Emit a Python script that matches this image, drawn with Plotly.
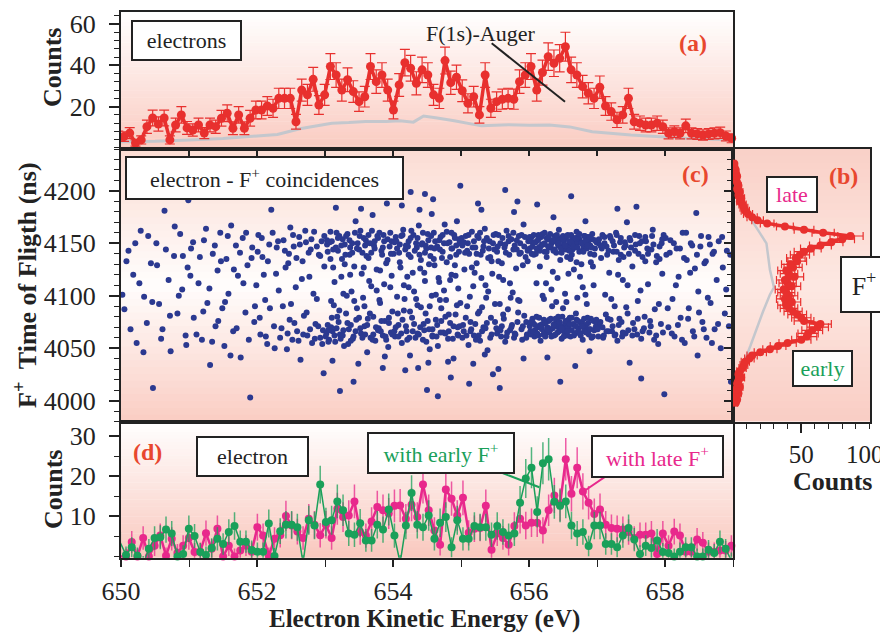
import numpy as np
import plotly.graph_objects as go

W, H = 888, 633
BODY_MARGIN = 8  # the page body keeps an 8 px margin; the figure is sized to fit inside it

# ---------------- Panel (a): electron spectrum ----------------
ENERGY_A_FIRST, ENERGY_A_LAST = 649.96, 658.98
COUNTS_A = [5.8, 5.5, 7.2, 2.4, 3.9, 10.3, 14.5, 11.6, 14.5, 3.9,
            11.1, 16, 9.7, 8.7, 11.1, 7.2, 11.1, 10.3, 14.4, 16.8,
            9.5, 16, 9.5, 14.4, 18.4, 18.4, 20.3, 19.2, 24, 24,
            24, 12.7, 28, 25.7, 33.2, 20.8, 25.7, 39.4, 35.3, 28,
            33, 27.3, 22.4, 24.8, 39.4, 32.1, 35.3, 28, 18.4, 30.5,
            41.3, 38.6, 31.3,
            37.8, 35.3, 25.7, 24, 42.3, 31.6, 34.2, 27.7, 21.6, 24.8,
            16, 35.3, 19.2, 22.4, 23.6, 24, 23.6, 32.1, 35.3, 39.4,
            28, 36.5, 44.2, 41, 43.4, 49, 37.8, 35.3, 29.7, 26.5,
            24, 29.4, 20.3, 17.6, 13.6, 16, 24, 12.7, 12, 11.1,
            11.1, 12, 10.3, 7.1, 7.9, 7.1, 10.7, 7.1, 6.8, 6.3,
            6.8, 7.1, 7.4, 5.8, 4.7]
GRAY_A_E = [650.0, 650.5, 651.0, 651.5, 652.0, 652.3, 652.63, 652.9, 653.1, 653.35,
            653.6, 653.9, 654.1, 654.3, 654.45, 654.65, 654.9, 655.3, 655.7, 656.0,
            656.3, 656.6, 656.93, 657.5, 658.3, 659.0]
GRAY_A = [3.0, 3.2, 3.8, 4.6, 5.8, 6.5, 9.3, 10.8, 12.0, 12.3,
          12.8, 12.8, 13.2, 12.5, 15.5, 14.5, 13.2, 10.7, 11.2, 11.0,
          11.1, 10.2, 7.9, 6.3, 4.7, 3.9]

# ---------------- Panel (b): F+ time-of-flight ----------------
TOF_B = [3998, 4001, 4004, 4007, 4010, 4013, 4016, 4019, 4022, 4025, 4028, 4031, 4034, 4037,
         4040, 4043, 4046, 4049, 4052, 4055, 4058, 4061, 4064, 4067, 4070, 4073, 4076, 4079,
         4082, 4085, 4088, 4091, 4094, 4097, 4100, 4103, 4106, 4109, 4112, 4115, 4118, 4121,
         4124, 4127, 4130, 4133, 4136, 4139, 4142, 4145, 4148, 4151, 4154, 4157, 4160, 4163,
         4166, 4169, 4172, 4175, 4178, 4181, 4184, 4187, 4190, 4193, 4196, 4199, 4202, 4205,
         4208, 4211, 4214, 4217, 4220, 4223, 4226]
COUNTS_B = [2, 3, 1, 4, 2, 5, 3, 4, 6, 4, 5, 7, 8, 9,
            12, 14, 20, 27, 33, 40, 50, 54, 55, 58, 62, 64, 52, 50,
            47, 44, 41, 39, 43, 38, 41, 39, 37, 43, 40, 38, 45, 41,
            39, 44, 42, 47, 46, 49, 52, 57, 64, 72, 80, 86, 66, 52,
            38, 25, 18, 14, 11, 9, 8, 7, 5, 6, 4, 5, 3, 4,
            3, 2, 3, 2, 2, 1, 1]
GRAY_B_TOF = [3996, 4000, 4020, 4036, 4052, 4068, 4085, 4101, 4108, 4125, 4150, 4170, 4180, 4200, 4215, 4226]
GRAY_B = [1.2, 5, 5.6, 7.8, 12.7, 17, 22, 27, 30, 27, 24.5, 14.7, 9, 4.5, 2.5, 0.5]
COUNTS_B_TICKS = [50, 100]

# ---------------- Panel (c): electron - F+ coincidences (energy eV, TOF ns) ----------------
COINC = [
 (650.02,4101),(650.05,4087),(650.11,4143),(650.18,4120),(650.23,4055),(650.29,4162),(650.34,4099),(650.38,4074),(650.44,4131),(650.47,4012),
 (650.52,4150),(650.56,4092),(650.61,4068),(650.64,4181),(650.70,4115),(650.73,4047),(650.78,4138),(650.83,4083),(650.87,4159),(650.90,4106),(650.95,4062),(650.98,4127),
 (651.03,4145),(651.07,4079),(651.10,4196),(651.14,4112),(651.19,4058),(651.22,4153),(651.27,4093),(651.31,4034),(651.35,4140),(651.39,4071),(651.42,4124),(651.46,4160),(651.49,4088),
 (651.52,4052),(651.55,4135),(651.58,4102),(651.62,4167),(651.65,4066),(651.69,4148),(651.72,4119),(651.76,4041),(651.79,4155),(651.83,4084),(651.86,4129),(651.90,4003),(651.93,4146),(651.96,4075),(651.99,4110),
 (652.02,4158),(652.05,4063),(652.08,4137),(652.12,4096),(652.15,4054),(652.18,4149),(652.21,4182),(652.25,4071),(652.28,4121),(652.31,4152),(652.34,4060),(652.38,4090),(652.41,4143),(652.44,4049),(652.46,4131),(652.48,4077),(652.49,4165),
 (652.52,4058),(652.54,4147),(652.57,4108),(652.59,4066),(652.62,4156),(652.64,4039),(652.67,4133),(652.69,4081),(652.72,4151),(652.74,4062),(652.77,4118),(652.79,4144),(652.81,4055),(652.84,4161),(652.86,4073),(652.88,4097),(652.91,4139),(652.93,4060),(652.95,4152),(652.97,4067),(652.98,4026),(652.99,4128),
 (653.01,4061),(653.03,4149),(653.04,4072),(653.06,4058),(653.08,4135),(653.10,4152),(653.11,4066),(653.13,4091),(653.15,4056),(653.17,4160),(653.19,4143),(653.20,4075),(653.22,4063),(653.24,4118),(653.26,4154),(653.28,4052),(653.30,4139),(653.31,4083),(653.33,4159),(653.35,4068),(653.37,4146),(653.39,4104),(653.41,4059),(653.43,4128),(653.45,4171),(653.46,4077),(653.48,4150),(653.49,4035),
 (653.51,4157),(653.53,4064),(653.55,4141),(653.56,4098),(653.58,4071),(653.60,4153),(653.62,4046),(653.64,4136),(653.65,4114),(653.67,4060),(653.69,4162),(653.71,4080),(653.72,4148),(653.74,4057),(653.76,4125),(653.78,4155),(653.79,4069),(653.81,4093),(653.83,4143),(653.85,4062),(653.86,4158),(653.88,4076),(653.90,4131),(653.91,4188),(653.93,4051),(653.95,4147),(653.96,4108),(653.97,4065),(653.98,4152),(653.99,4085),
 (654.01,4140),(654.03,4061),(654.04,4156),(654.06,4099),(654.08,4072),(654.10,4149),(654.11,4127),(654.13,4055),(654.15,4163),(654.16,4086),(654.18,4144),(654.20,4066),(654.21,4118),(654.23,4152),(654.25,4043),(654.26,4137),(654.28,4079),(654.30,4158),(654.31,4104),(654.33,4060),(654.35,4146),(654.36,4091),(654.38,4167),(654.40,4070),(654.41,4134),(654.43,4150),(654.44,4058),(654.46,4122),(654.47,4197),(654.48,4083),(654.49,4145),(654.50,4010),
 (654.52,4153),(654.53,4068),(654.55,4138),(654.57,4100),(654.58,4061),(654.60,4160),(654.61,4129),(654.63,4077),(654.65,4147),(654.66,4052),(654.68,4113),(654.70,4156),(654.71,4088),(654.73,4142),(654.74,4065),(654.76,4168),(654.78,4096),(654.79,4132),(654.81,4059),(654.83,4151),(654.84,4074),(654.86,4120),(654.87,4145),(654.89,4040),(654.90,4158),(654.92,4082),(654.93,4139),(654.95,4063),(654.96,4107),(654.97,4154),(654.98,4071),(654.99,4205),
 (655.02,4148),(655.04,4066),(655.05,4125),(655.07,4157),(655.09,4090),(655.11,4053),(655.12,4140),(655.14,4075),(655.16,4161),(655.18,4109),(655.19,4062),(655.21,4146),(655.23,4131),(655.25,4083),(655.26,4155),(655.28,4057),(655.30,4117),(655.32,4143),(655.33,4070),(655.35,4164),(655.37,4098),(655.39,4048),(655.40,4136),(655.42,4152),(655.44,4079),(655.46,4121),(655.47,4025),(655.49,4144),
 (655.51,4159),(655.53,4064),(655.55,4133),(655.57,4092),(655.58,4150),(655.60,4071),(655.62,4115),(655.64,4146),(655.65,4056),(655.67,4162),(655.69,4087),(655.71,4139),(655.72,4067),(655.74,4154),(655.76,4103),(655.78,4060),(655.79,4148),(655.81,4126),(655.83,4075),(655.85,4157),(655.86,4095),(655.88,4141),(655.90,4058),(655.92,4168),(655.93,4081),(655.95,4137),(655.97,4063),(655.99,4152),
 (656.01,4145),(656.02,4066),(656.04,4156),(656.05,4078),(656.07,4139),(656.08,4061),(656.10,4151),(656.11,4112),(656.13,4070),(656.14,4158),(656.16,4143),(656.17,4057),(656.19,4149),(656.20,4073),(656.22,4097),(656.23,4160),(656.25,4065),(656.26,4137),(656.28,4154),(656.29,4076),(656.31,4146),(656.32,4068),(656.34,4152),(656.35,4123),(656.37,4062),(656.38,4157),(656.40,4141),(656.41,4071),(656.42,4150),(656.43,4080),(656.44,4163),(656.45,4067),(656.46,4134),(656.47,4155),(656.48,4059),(656.49,4147),(656.50,4088),(656.36,4175),(656.27,4041),(656.12,4187),(656.33,4106),(656.46,4018),
 (656.51,4153),(656.52,4070),(656.54,4144),(656.55,4064),(656.57,4158),(656.58,4077),(656.60,4149),(656.61,4061),(656.63,4139),(656.64,4155),(656.66,4072),(656.67,4146),(656.69,4083),(656.70,4161),(656.72,4066),(656.73,4151),(656.75,4118),(656.76,4074),(656.78,4143),(656.79,4058),(656.81,4157),(656.82,4069),(656.84,4148),(656.85,4092),(656.87,4152),(656.88,4063),(656.90,4140),(656.91,4078),(656.93,4159),(656.94,4128),(656.96,4067),(656.97,4145),(656.99,4073),(656.53,4102),(656.62,4195),(656.68,4033),(656.77,4130),(656.83,4171),(656.89,4047),(656.56,4137),(656.74,4154),(656.86,4156),
 (657.02,4150),(657.04,4071),(657.06,4136),(657.08,4158),(657.10,4062),(657.12,4101),(657.14,4147),(657.16,4078),(657.18,4122),(657.20,4155),(657.22,4066),(657.24,4142),(657.26,4090),(657.28,4160),(657.30,4057),(657.32,4134),(657.34,4151),(657.36,4075),(657.38,4115),(657.40,4146),(657.42,4064),(657.44,4170),(657.45,4083),(657.47,4140),(657.48,4036),(657.49,4153),
 (657.52,4128),(657.55,4068),(657.57,4149),(657.60,4095),(657.62,4157),(657.65,4059),(657.67,4137),(657.70,4080),(657.72,4152),(657.75,4111),(657.77,4065),(657.80,4144),(657.82,4163),(657.85,4087),(657.87,4132),(657.90,4054),(657.92,4147),(657.94,4073),(657.96,4121),(657.98,4158),(657.99,4006),(657.58,4185),
 (658.02,4139),(658.05,4070),(658.08,4153),(658.11,4097),(658.14,4061),(658.17,4145),(658.20,4118),(658.23,4079),(658.26,4160),(658.29,4055),(658.32,4134),(658.35,4088),(658.38,4150),(658.41,4066),(658.44,4126),(658.46,4179),(658.48,4043),(658.49,4104),
 (658.52,4147),(658.55,4075),(658.58,4131),(658.61,4060),(658.64,4156),(658.67,4093),(658.70,4140),(658.73,4068),(658.76,4115),(658.79,4152),(658.82,4050),(658.85,4127),(658.88,4083),(658.91,4143),(658.94,4071),(658.97,4018),
]
COINC_MORE = [
 (650.08,4133),(650.14,4068),(650.21,4150),(650.27,4112),(650.33,4046),(650.40,4157),(650.46,4094),(650.53,4129),(650.59,4059),(650.66,4144),(650.72,4081),(650.79,4166),(650.85,4100),(650.91,4138),(650.96,4053),(650.99,4191),
 (651.02,4119),(651.06,4151),(651.11,4063),(651.16,4137),(651.21,4085),(651.25,4164),(651.30,4107),(651.34,4056),(651.38,4148),(651.43,4076),(651.47,4133),(651.53,4094),(651.57,4157),(651.61,4043),(651.66,4125),(651.70,4069),(651.75,4141),(651.80,4112),(651.84,4160),(651.88,4058),(651.92,4136),(651.97,4090),
 (652.01,4142),(652.04,4079),(652.07,4155),(652.10,4120),(652.13,4061),(652.16,4133),(652.19,4088),(652.23,4160),(652.26,4050),(652.29,4146),(652.32,4105),(652.36,4069),(652.39,4153),(652.42,4127),(652.45,4064),(652.47,4140),(652.50,4092),(652.53,4158),(652.55,4074),(652.58,4136),(652.61,4057),(652.63,4149),(652.66,4116),(652.68,4063),(652.71,4162),(652.73,4084),(652.76,4141),(652.78,4068),(652.80,4154),(652.83,4102),(652.85,4059),(652.88,4147),(652.90,4071),(652.93,4138),(652.96,4054),(652.99,4157),
 (653.02,4064),(653.04,4142),(653.05,4056),(653.07,4151),(653.09,4070),(653.12,4127),(653.14,4062),(653.16,4146),(653.18,4080),(653.21,4157),(653.23,4059),(653.25,4135),(653.27,4067),(653.29,4149),(653.32,4100),(653.34,4054),(653.36,4153),(653.38,4072),(653.40,4141),(653.42,4061),(653.44,4160),(653.47,4088),(653.50,4144),(653.52,4069),(653.54,4121),(653.57,4155),(653.59,4063),(653.61,4138),(653.63,4078),(653.66,4150),(653.68,4109),(653.70,4058),(653.73,4145),(653.75,4070),(653.77,4157),(653.80,4096),(653.82,4066),(653.84,4139),(653.87,4152),(653.89,4061),(653.92,4134),(653.94,4074),(653.96,4160),(653.98,4119),(653.22,4009),(653.53,4183),(653.11,4038),(653.85,4031),(653.65,4196),(653.37,4120),
 (654.02,4151),(654.04,4070),(654.06,4145),(654.08,4061),(654.10,4132),(654.12,4157),(654.14,4077),(654.16,4110),(654.19,4148),(654.21,4058),(654.23,4139),(654.25,4085),(654.27,4162),(654.29,4066),(654.32,4143),(654.34,4097),(654.36,4155),(654.38,4063),(654.40,4126),(654.42,4149),(654.45,4073),(654.47,4141),(654.49,4056),(654.51,4159),(654.54,4090),(654.56,4146),(654.58,4068),(654.60,4135),(654.62,4152),(654.64,4061),(654.67,4117),(654.69,4144),(654.71,4076),(654.73,4158),(654.75,4105),(654.77,4064),(654.80,4150),(654.82,4082),(654.84,4137),(654.86,4160),(654.88,4059),(654.91,4129),(654.93,4148),(654.95,4070),(654.97,4142),(654.99,4093),(654.18,4029),(654.57,4178),(654.39,4182),(654.85,4022),(654.66,4004),(654.26,4199),(654.94,4171),(654.52,4036),
 (655.01,4155),(655.03,4072),(655.06,4141),(655.08,4062),(655.10,4150),(655.13,4099),(655.15,4068),(655.17,4146),(655.20,4122),(655.22,4058),(655.24,4157),(655.27,4085),(655.29,4139),(655.31,4066),(655.34,4152),(655.36,4110),(655.38,4074),(655.41,4145),(655.43,4060),(655.45,4133),(655.48,4158),(655.50,4092),(655.52,4069),(655.54,4147),(655.56,4118),(655.59,4061),(655.61,4155),(655.63,4078),(655.66,4141),(655.68,4065),(655.70,4152),(655.73,4098),(655.75,4072),(655.77,4160),(655.80,4063),(655.82,4144),(655.84,4084),(655.87,4150),(655.89,4068),(655.91,4129),(655.94,4156),(655.96,4075),(655.98,4143),(655.25,4188),(655.55,4030),(655.78,4180),(655.12,4016),(655.65,4201),(655.92,4040),(655.35,4044),
 (656.01,4071),(656.02,4152),(656.03,4063),(656.05,4147),(656.06,4074),(656.07,4158),(656.09,4067),(656.10,4140),(656.11,4080),(656.13,4153),(656.14,4062),(656.15,4146),(656.17,4072),(656.18,4156),(656.19,4068),(656.21,4149),(656.22,4077),(656.23,4142),(656.24,4061),(656.26,4155),(656.27,4070),(656.28,4147),(656.30,4065),(656.31,4159),(656.32,4078),(656.33,4150),(656.35,4069),(656.36,4143),(656.37,4073),(656.38,4152),(656.39,4063),(656.40,4156),(656.41,4076),(656.43,4148),(656.44,4066),(656.45,4153),(656.47,4071),(656.48,4141),(656.49,4080),(656.50,4157),
 (656.51,4066),(656.52,4149),(656.53,4074),(656.54,4155),(656.56,4062),(656.57,4146),(656.58,4070),(656.59,4152),(656.60,4079),(656.62,4158),(656.63,4067),(656.64,4144),(656.65,4073),(656.67,4153),(656.68,4064),(656.69,4149),(656.70,4077),(656.72,4156),(656.73,4069),(656.74,4142),(656.76,4062),(656.77,4151),(656.78,4075),(656.80,4147),(656.81,4066),(656.82,4157),(656.84,4072),(656.85,4145),(656.86,4079),(656.88,4153),(656.89,4068),(656.90,4148),(656.92,4060),(656.93,4154),(656.95,4076),(656.96,4139),(656.98,4070),(656.99,4151),
 (656.20,4100),(656.42,4117),(656.55,4094),(656.66,4125),(656.79,4108),(656.91,4132),(656.34,4090),(656.61,4135),(656.71,4098),(656.16,4128),
 (657.01,4068),(657.03,4154),(657.05,4075),(657.07,4145),(657.09,4060),(657.11,4150),(657.13,4082),(657.15,4139),(657.17,4066),(657.19,4157),(657.21,4097),(657.23,4071),(657.25,4148),(657.27,4063),(657.29,4142),(657.31,4120),(657.33,4078),(657.35,4155),(657.37,4061),(657.39,4137),(657.41,4151),(657.43,4089),(657.46,4067),(657.50,4146),(657.53,4074),(657.56,4158),(657.59,4063),(657.61,4140),(657.64,4105),(657.66,4152),(657.69,4069),(657.71,4133),(657.74,4145),(657.78,4076),(657.81,4157),(657.84,4058),(657.88,4138),(657.91,4092),(657.95,4150),(657.97,4065),
 (658.01,4155),(658.04,4088),(658.07,4141),(658.10,4064),(658.13,4150),(658.16,4110),(658.19,4072),(658.22,4145),(658.25,4058),(658.28,4136),(658.31,4160),(658.34,4078),(658.37,4122),(658.40,4148),(658.43,4061),(658.47,4139),(658.50,4084),(658.53,4157),(658.57,4068),(658.60,4133),(658.63,4098),(658.66,4149),(658.69,4055),(658.72,4142),(658.78,4073),(658.84,4156),(658.90,4106),(658.96,4139),
]
COINC_DENSE = [
 (653.03,4153),(653.05,4067),(653.08,4161),(653.10,4079),(653.12,4144),(653.14,4113),(653.17,4069),(653.19,4155),(653.21,4086),(653.24,4148),(653.26,4062),(653.29,4130),(653.31,4157),(653.33,4074),(653.36,4139),(653.38,4057),(653.40,4150),(653.43,4095),(653.45,4066),(653.47,4145),(653.50,4079),(653.52,4162),(653.55,4060),(653.57,4127),(653.59,4148),(653.62,4072),(653.64,4158),(653.66,4083),(653.68,4141),(653.71,4063),(653.73,4152),(653.76,4105),(653.78,4067),(653.80,4160),(653.83,4076),(653.85,4146),(653.87,4111),(653.90,4058),(653.92,4154),(653.94,4079),(653.97,4140),(653.99,4063),(653.16,4184),(653.42,4018),(653.70,4177),(653.88,4042),(653.27,4102),(653.58,4090),(653.81,4124),(653.09,4095),
 (654.02,4066),(654.05,4152),(654.07,4083),(654.09,4141),(654.12,4064),(654.14,4158),(654.17,4097),(654.19,4071),(654.22,4147),(654.24,4060),(654.26,4155),(654.29,4122),(654.31,4073),(654.34,4150),(654.36,4064),(654.39,4139),(654.41,4089),(654.44,4160),(654.46,4067),(654.48,4148),(654.51,4076),(654.53,4130),(654.56,4157),(654.58,4062),(654.61,4145),(654.63,4101),(654.65,4072),(654.68,4153),(654.70,4065),(654.72,4136),(654.75,4150),(654.77,4080),(654.79,4161),(654.82,4066),(654.84,4115),(654.86,4145),(654.89,4071),(654.91,4155),(654.94,4091),(654.96,4062),(654.98,4150),(654.13,4186),(654.37,4031),(654.59,4192),(654.81,4037),(654.23,4108),(654.47,4114),(654.69,4096),(654.92,4119),(654.54,4049),
 (655.02,4060),(655.04,4151),(655.07,4079),(655.09,4143),(655.11,4158),(655.14,4066),(655.16,4127),(655.19,4152),(655.21,4073),(655.23,4140),(655.26,4062),(655.28,4160),(655.31,4089),(655.33,4147),(655.36,4069),(655.38,4155),(655.40,4104),(655.43,4137),(655.45,4063),(655.47,4150),(655.50,4075),(655.53,4142),(655.55,4158),(655.58,4067),(655.60,4131),(655.62,4082),(655.65,4149),(655.67,4061),(655.70,4157),(655.72,4112),(655.74,4070),(655.77,4144),(655.79,4064),(655.82,4153),(655.84,4096),(655.86,4140),(655.89,4158),(655.91,4071),(655.93,4147),(655.96,4060),(655.98,4133),(655.30,4182),(655.57,4012),(655.83,4190),(655.18,4035),
 (656.01,4156),(656.03,4075),(656.04,4140),(656.06,4066),(656.08,4151),(656.09,4072),(656.11,4145),(656.12,4064),(656.14,4154),(656.15,4079),(656.17,4147),(656.18,4070),(656.20,4159),(656.21,4063),(656.23,4150),(656.24,4074),(656.26,4142),(656.27,4068),(656.29,4156),(656.30,4077),(656.32,4147),(656.33,4061),(656.35,4153),(656.36,4072),(656.38,4144),(656.39,4078),(656.41,4158),(656.42,4065),(656.44,4150),(656.45,4075),(656.47,4145),(656.48,4069),(656.50,4154),(656.51,4061),(656.53,4148),(656.54,4076),(656.56,4157),(656.57,4066),(656.59,4143),(656.60,4073),(656.62,4151),(656.63,4079),(656.65,4147),(656.66,4062),(656.68,4155),(656.69,4071),(656.71,4146),(656.72,4076),(656.74,4159),(656.75,4064),(656.77,4150),(656.78,4071),(656.80,4142),(656.81,4078),(656.83,4152),(656.84,4065),(656.86,4148),(656.87,4074),(656.89,4156),(656.90,4068),(656.92,4146),(656.94,4061),(656.97,4153),(656.99,4077),(656.25,4112),(656.58,4121),(656.83,4101),(656.40,4094),(656.70,4132),(656.95,4110),
 (657.02,4061),(657.05,4148),(657.08,4070),(657.11,4156),(657.14,4066),(657.17,4143),(657.20,4077),(657.23,4152),(657.26,4062),(657.29,4158),(657.32,4072),(657.35,4139),(657.38,4065),(657.42,4148),(657.45,4110),(657.48,4155),(657.52,4062),(657.56,4143),(657.60,4078),(657.63,4150),(657.67,4066),(657.71,4156),(657.75,4140),(657.79,4071),(657.83,4149),(657.87,4062),(657.92,4135),(657.96,4154),(657.30,4183),(657.65,4021),
]

# ---------------- Panel (d): electron spectra with early / late F+ ----------------
ENERGY_D_FIRST, ENERGY_D_LAST = 649.99, 659.06
EARLY_D = [3.4, 0.4, 2.3, 0.2, -1.9, 1.9, 4.6, 4.8, 6.7, 5.7,
           0, 0.65, 6.9, 5.1, 1.1, 0.4, 2.1, 4.4, 3.1, 6.1,
           7.6, 3.7, 3.7, 1.6, 1.2, 1.2, 8.2, 0.1, 6.3, 7.9,
           7.9, 7.3, -1.6, 9.0, 7.7, 17.9, 8.6, 9.0, 13.7, 11.5,
           5.7, 5.4, 8.3, 4.0, 4.0, 7.9, 6.7, 11.7, 5.2, -1.6,
           7.7, 15.8, 7.9,
           7.3, 10.2, 4.4, 8.4, 9.8, 2.3, 9.0, 4.4, 4.4, 7.6,
           7.3, 7.3, 5.4, 7.6, 6.1, 5.2, 5.7, 13.4, 19.4, 22.1,
           11.1, 23.2, 24.2, 13.6, 12.6, 13.7, 7.7, 5.7, 6.1, 2.6,
           7.7, 7.7, 3.1, 3.1, 2.3, 5.2, 7.1, 4.2, 0.65, 2.7,
           2.1, 4.0, 1.1, 0.9, 0, 1.2, 2.3, 2.3, 0, 0,
           1.7, 0.9, 3.7, 1.9, -1.0, 0.1]
LATE_D = [0, 0, 3.6, 0, 4.6, 0, 2.7, 5.2, 0.2, 4.4,
          0.9, 2.7, 4.6, 1.1, 1.2, 5.8, 1.9, 6.9, 0, 2.7,
          0, 1.5, 2.7, 1.2, 7.3, 5.2, 0.2, 4.4, 5.3, 10.1,
          7.7, 6.2, 4.6, 9.4, 7.9, 5.3, 7.9, 4.6, 11.9, 9.8,
          10.2, 13.7, 6.1, 5.2, 8.7, 12.3, 11.5, 10.7, 12.6, 12.7,
          9.4, 12.9, 9.8,
          17.9, 11.5, 6.5, 2.9, 16.7, 14.4, 10.2, 14.6, 5.9, 6.9,
          7.1, 12.6, 1.7, 5.7, 4.6, 2.9, 7.6, 9.4, 7.7, 8.4,
          8.4, 6.5, 11.5, 15.2, 12.9, 24.2, 15.6, 22.1, 16.2, 13.4,
          10.6, 11.7, 7.9, 7.1, 6.9, 6.7, 6.1, 4.6, 5.4, 5.4,
          5.7, 0.65, 5.7, 2.7, 6.2, 5.2, 1.2, 1.2, 4.2, 3.4,
          1.2, 1.2, 1.5, 1.5, 2.7, 0]

X_TICKS = [650, 652, 654, 656, 658]

# ---------------- styling ----------------
FONT = "Liberation Serif"
RED = "#e8302e"
GRAY = "#c4c7cd"
BLUE = "#2b3990"
GREEN = "#1aa05a"
MAGENTA = "#e8288c"
LABEL_RED = "#e8472e"
INK = "#222222"

FW, FH = W - BODY_MARGIN, H - BODY_MARGIN


def px(x):
    return (x - BODY_MARGIN) / FW


def py(y):
    return 1 - (y - BODY_MARGIN) / FH


XD_MAIN = [px(121), px(733)]
XD_B = [px(733), px(870)]
YD_A = [py(149), py(12)]
YD_C = [py(421.5), py(149)]
YD_D = [py(557.7), py(421.5)]

energy_a = np.linspace(ENERGY_A_FIRST, ENERGY_A_LAST, len(COUNTS_A))
energy_d = np.linspace(ENERGY_D_FIRST, ENERGY_D_LAST, len(EARLY_D))
all_coinc = COINC + COINC_MORE + COINC_DENSE
coinc_e = [p[0] for p in all_coinc]
coinc_t = [p[1] for p in all_coinc]

fig = go.Figure()

fig.add_trace(go.Scatter(x=GRAY_A_E, y=GRAY_A, mode="lines", line=dict(color=GRAY, width=3),
                         xaxis="x", yaxis="y", hoverinfo="skip"))
fig.add_trace(go.Scatter(x=energy_a, y=COUNTS_A, mode="lines+markers",
                         line=dict(color=RED, width=3.5), marker=dict(color=RED, size=9),
                         error_y=dict(type="data", array=np.sqrt(COUNTS_A), color=RED, thickness=1.2, width=5),
                         xaxis="x", yaxis="y", cliponaxis=False))

fig.add_trace(go.Scatter(x=coinc_e, y=coinc_t, mode="markers",
                         marker=dict(color=BLUE, size=6), xaxis="x2", yaxis="y2"))

fig.add_trace(go.Scatter(x=GRAY_B, y=GRAY_B_TOF, mode="lines", line=dict(color=GRAY, width=2.5),
                         xaxis="x3", yaxis="y3"))
fig.add_trace(go.Scatter(x=COUNTS_B, y=TOF_B, mode="lines+markers",
                         line=dict(color=RED, width=3.5), marker=dict(color=RED, size=8),
                         error_x=dict(type="data", array=np.sqrt(COUNTS_B), color=RED, thickness=1.2, width=4),
                         xaxis="x3", yaxis="y3"))

err_late = np.sqrt(np.clip(LATE_D, 0, None) + 4)
err_early = np.sqrt(np.clip(EARLY_D, 0, None) + 4)
fig.add_trace(go.Scatter(x=energy_d, y=LATE_D, mode="lines+markers",
                         line=dict(color=MAGENTA, width=2.5), marker=dict(color=MAGENTA, size=8),
                         error_y=dict(type="data", array=err_late, color="rgba(232,40,140,0.75)", thickness=1.5, width=0),
                         xaxis="x4", yaxis="y4", cliponaxis=False))
fig.add_trace(go.Scatter(x=energy_d, y=EARLY_D, mode="lines+markers",
                         line=dict(color=GREEN, width=1.5), marker=dict(color=GREEN, size=8),
                         error_y=dict(type="data", array=err_early, color="rgba(26,160,90,0.75)", thickness=1.5, width=0),
                         xaxis="x4", yaxis="y4", cliponaxis=False))

# ---------- background gradients ----------
shapes = []


def lerp_color(stops, t):
    for (t0, c0), (t1, c1) in zip(stops[:-1], stops[1:]):
        if t0 <= t <= t1:
            f = (t - t0) / (t1 - t0)
            c = [round(a + (b - a) * f) for a, b in zip(c0, c1)]
            return "rgb(%d,%d,%d)" % tuple(c)
    return "rgb(%d,%d,%d)" % stops[-1][1]


def gradient(xr, yr, stops, n=40):
    for i in range(n):
        t0, t1 = i / n, (i + 1) / n
        shapes.append(dict(type="rect", xref=xr + " domain", yref=yr + " domain",
                           x0=0, x1=1, y0=t0, y1=min(1, t1 + 0.003),
                           fillcolor=lerp_color(stops, (t0 + t1) / 2), line=dict(width=0), layer="below"))


gradient("x", "y", [(0, (250, 203, 193)), (1, (255, 255, 255))])
gradient("x2", "y2", [(0, (250, 205, 195)), (0.5, (255, 253, 252)), (1, (251, 220, 211))])
gradient("x3", "y3", [(0, (249, 205, 196)), (0.5, (253, 232, 226)), (1, (249, 208, 199))])
gradient("x4", "y4", [(0, (249, 200, 190)), (1, (255, 255, 255))])


# leader lines of the labels
def seg(x0, y0, x1, y1, color):
    shapes.append(dict(type="line", xref="paper", yref="paper", x0=px(x0), y0=py(y0), x1=px(x1), y1=py(y1),
                       line=dict(color=color, width=2)))


seg(491.7, 43.3, 565, 101.7, INK)
seg(481.7, 465, 539.3, 487.3, GREEN)
seg(620, 466.7, 585.7, 490, MAGENTA)

# ---------- annotations ----------
ann = []


def text(x, y, s, size=22, color=INK, angle=0):
    ann.append(dict(x=px(x), y=py(y), xref="paper", yref="paper", text=s, showarrow=False,
                    font=dict(family=FONT, size=size, color=color), textangle=angle,
                    xanchor="center", yanchor="middle"))


def box(x0, x1, y0, y1, s, size=22, color=INK):
    ann.append(dict(x=px((x0 + x1) / 2), y=py((y0 + y1) / 2), xref="paper", yref="paper", text=s,
                    showarrow=False, font=dict(family=FONT, size=size, color=color),
                    xanchor="center", yanchor="middle", width=x1 - x0 - 2, height=y1 - y0 - 2,
                    bordercolor=INK, borderwidth=2, borderpad=0, bgcolor="white", align="center", valign="middle"))


box(131.7, 240.7, 20.7, 59.3, "electrons")
text(480, 33, "F(1s)-Auger")
text(693, 43, "<b>(a)</b>", size=24, color=LABEL_RED)
box(126, 403, 157, 199, "electron - F<sup>+</sup> coincidences")
text(695, 174, "<b>(c)</b>", size=24, color=LABEL_RED)
text(843, 176, "<b>(b)</b>", size=24, color=LABEL_RED)
box(766.7, 816.7, 176.7, 211.7, "late", color=MAGENTA)
box(793, 852, 350.7, 386, "early", color=GREEN)
box(840.7, 886.7, 257, 311.7, "F<sup>+</sup>", size=26)
text(147, 452, "<b>(d)</b>", size=24, color=LABEL_RED)
box(197, 308, 437, 476, "electron")
box(368, 514, 433, 472.7, "with early F<sup>+</sup>", color=GREEN)
box(592.3, 723.3, 435.7, 476.7, "with late F<sup>+</sup>", color=MAGENTA)

# the "100" label of panel (b) sits against the page edge, so it is placed by hand
text(865, 454, "100", size=25)

# axis titles
text(53, 68, "<b>Counts</b>", size=26, angle=-90)
text(25, 285, "<b>F<sup>+</sup>  Time of Fligth (ns)</b>", size=26, angle=-90)
text(53, 490, "<b>Counts</b>", size=26, angle=-90)
text(424, 619, "<b>Electron Kinetic Energy (eV)</b>", size=25)
text(832, 481, "<b>Counts</b>", size=26)

tickfont = dict(family=FONT, size=26, color=INK)
base = dict(showline=True, linecolor=INK, linewidth=2, mirror=True, showgrid=False, zeroline=False,
            tickfont=tickfont, tickcolor=INK, tickwidth=1.5, automargin=False, fixedrange=True)
minor_style = dict(ticks="outside", tickcolor=INK, tickwidth=1.2)

fig.update_layout(
    width=FW, height=FH, margin=dict(l=0, r=0, t=0, b=0), template="none", showlegend=False,
    paper_bgcolor="white", plot_bgcolor="white",
    shapes=shapes, annotations=ann,
    xaxis=dict(base, domain=XD_MAIN, anchor="y", range=[650, 659], showticklabels=False, ticks=""),
    yaxis=dict(base, domain=YD_A, anchor="x", range=[-0.5, 65.8], tickvals=[20, 40, 60],
               ticks="outside", ticklen=10, ticklabelstandoff=8,
               minor=dict(minor_style, dtick=4, tick0=0, ticklen=5)),
    xaxis2=dict(base, domain=XD_MAIN, anchor="y2", range=[650, 659], side="top", ticks="inside",
                tickmode="linear", tick0=650, dtick=1, ticklen=7, showticklabels=False),
    yaxis2=dict(base, domain=YD_C, anchor="x2", range=[3980, 4240], tickmode="linear", tick0=4000, dtick=50,
                ticks="outside", ticklen=10, ticklabelstandoff=8,
                minor=dict(minor_style, dtick=10, tick0=4000, ticklen=5)),
    xaxis3=dict(base, domain=XD_B, anchor="y3", range=[0, 100.3], tickvals=COUNTS_B_TICKS[:1], ticks="outside",
                ticklen=9, tickfont=dict(family=FONT, size=25, color=INK),
                minor=dict(minor_style, dtick=10, tick0=0, ticklen=5)),
    yaxis3=dict(base, domain=YD_C, anchor="x3", range=[3980, 4240], showticklabels=False,
                tickmode="linear", tick0=4000, dtick=50, ticks="outside", ticklen=7,
                minor=dict(minor_style, dtick=10, tick0=4000, ticklen=4)),
    xaxis4=dict(base, domain=XD_MAIN, anchor="y4", range=[650, 659], tickvals=X_TICKS,
                ticks="outside", ticklen=7, ticklabelstandoff=2,
                minor=dict(minor_style, dtick=1, tick0=650, ticklen=7)),
    yaxis4=dict(base, domain=YD_D, anchor="x4", range=[-0.3, 33.6], tickvals=[10, 20, 30],
                ticks="outside", ticklen=10, ticklabelstandoff=8,
                minor=dict(minor_style, dtick=5, tick0=0, ticklen=5)),
)

fig.write_html("out.html")
